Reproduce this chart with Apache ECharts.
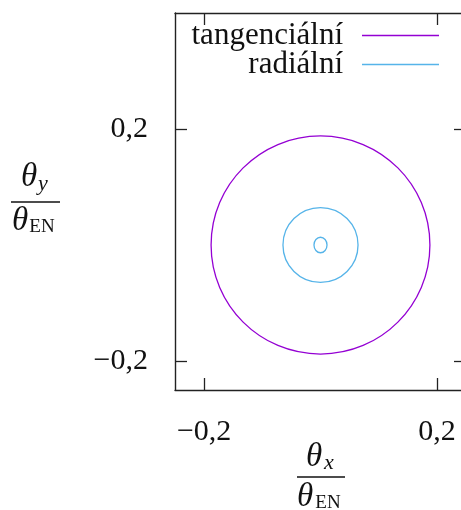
<!DOCTYPE html>
<html>
<head>
<meta charset="utf-8">
<script src="https://cdn.jsdelivr.net/npm/echarts@6/dist/echarts.min.js"></script>
<style>
  html, body { margin: 0; padding: 0; background: #fff; overflow: hidden; }
  #chart { width: 461px; height: 510px; }
</style>
</head>
<body>
<div id="chart"></div>
<script>
// Ring traces: [centre x, centre y, half-width, half-height] in normalised units
const seriesNames = ['tangenciální', 'radiální'];
const tangentialRings = [[0, 0, 0.188, 0.188]];
const radialRings = [[0, 0, 0.0645, 0.0645], [0, 0, 0.0112, 0.0134]];
const xTicks = [-0.2, 0.2];
const yTicks = [-0.2, 0.2];
const xRange = [-0.25, 0.25];
const yRange = [-0.25, 0.4];

const FONT = '"Liberation Serif", "DejaVu Serif", serif';
const INK = '#222';
const TEXT = '#111';
const COLORS = ['#9400d3', '#56b4e9'];

const fmt = v => (v < 0 ? '\u2212' : '') + Math.abs(v).toFixed(1).replace('.', ',');

function ringRenderer(color) {
  return function (params, api) {
    const c = api.coord([api.value(0), api.value(1)]);
    const s = api.size([api.value(2), api.value(3)]);
    return {
      type: 'ellipse',
      shape: { cx: c[0], cy: c[1], rx: s[0], ry: s[1] },
      style: { fill: 'none', stroke: color, lineWidth: 1.3 }
    };
  };
}

function tickStyle(values) {
  return { show: true, inside: true, length: 12, customValues: values, lineStyle: { color: INK, width: 1.3 } };
}

function axisBase(extra) {
  return Object.assign({
    type: 'value',
    axisLine: { show: true, onZero: false, lineStyle: { color: INK, width: 1.4 } },
    splitLine: { show: false },
    axisLabel: { show: false }
  }, extra);
}

function txt(x, y, s, font) {
  return { type: 'text', x: x, y: y, style: { text: s, font: font, fill: TEXT, align: 'center', verticalAlign: 'middle' } };
}

// Fraction-style axis title: theta_sub over theta_EN
function fraction(o) {
  return {
    type: 'group',
    children: [
      txt(o.numX, o.numY, '\u03b8', 'italic 33px ' + FONT),
      txt(o.subX, o.subY, o.sub, 'italic 22px ' + FONT),
      { type: 'line', shape: { x1: o.barX1, y1: o.barY, x2: o.barX2, y2: o.barY }, style: { stroke: TEXT, lineWidth: 1.3 } },
      txt(o.denX, o.denY, '\u03b8', 'italic 33px ' + FONT),
      txt(o.enX, o.enY, 'EN', '19px ' + FONT)
    ]
  };
}

function legendItem(name, top) {
  return {
    data: [name], orient: 'vertical', align: 'right', right: 17, top: top,
    icon: 'rect', itemWidth: 77, itemHeight: 1.4, selectedMode: false,
    textStyle: { fontFamily: FONT, fontSize: 31, color: TEXT, padding: [0, 14, 0, 0] }
  };
}

const chart = echarts.init(document.getElementById('chart'), null, { renderer: 'canvas' });

chart.setOption({
  backgroundColor: '#fff',
  animation: false,
  // the plot frame runs a little past the right edge of the page
  grid: { left: 175, top: 13, width: 291, height: 377, containLabel: false, outerBoundsMode: 'none' },
  xAxis: [
    axisBase({
      min: xRange[0], max: xRange[1], position: 'bottom',
      axisTick: tickStyle(xTicks),
      axisLabel: { show: true, customValues: xTicks, formatter: fmt, margin: 27, color: TEXT, fontFamily: FONT, fontSize: 30 }
    }),
    axisBase({ min: xRange[0], max: xRange[1], position: 'top', axisTick: tickStyle(xTicks) })
  ],
  yAxis: [
    axisBase({
      min: yRange[0], max: yRange[1], position: 'left',
      axisTick: tickStyle(yTicks),
      axisLabel: { show: true, customValues: yTicks, formatter: fmt, margin: 27, color: TEXT, fontFamily: FONT, fontSize: 30 }
    }),
    axisBase({
      min: yRange[0], max: yRange[1], position: 'right', axisTick: tickStyle(yTicks),
      axisLine: { show: false, onZero: false }
    })
  ],
  legend: [legendItem(seriesNames[0], 15), legendItem(seriesNames[1], 44)],
  graphic: [
    fraction({ numX: 29, numY: 177, sub: 'y', subX: 43, subY: 184, barX1: 11, barX2: 60, barY: 202,
               denX: 20, denY: 221, enX: 42, enY: 227 }),
    fraction({ numX: 314, numY: 457, sub: 'x', subX: 329, subY: 463, barX1: 297, barX2: 345, barY: 477,
               denX: 305, denY: 497, enX: 328, enY: 503 })
  ],
  series: [
    {
      name: seriesNames[0], type: 'custom', xAxisIndex: 0, yAxisIndex: 0,
      itemStyle: { color: COLORS[0] },
      encode: { x: 0, y: 1 },
      renderItem: ringRenderer(COLORS[0]),
      data: tangentialRings
    },
    {
      name: seriesNames[1], type: 'custom', xAxisIndex: 0, yAxisIndex: 0,
      itemStyle: { color: COLORS[1] },
      encode: { x: 0, y: 1 },
      renderItem: ringRenderer(COLORS[1]),
      data: radialRings
    }
  ]
});
</script>
</body>
</html>
